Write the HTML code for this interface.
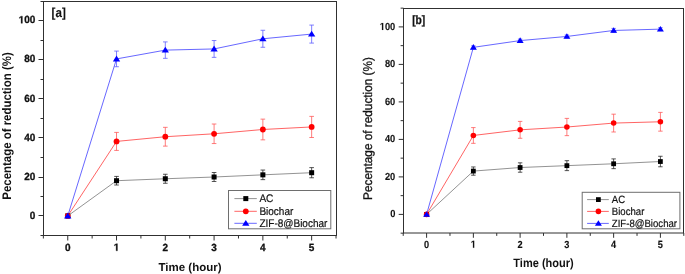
<!DOCTYPE html>
<html><head><meta charset="utf-8"><style>
html,body{margin:0;padding:0;background:#fff;}
body{width:685px;height:274px;overflow:hidden;}
svg{display:block;filter:blur(0.35px);text-rendering:geometricPrecision;font-family:"Liberation Sans",sans-serif;}
.ax{stroke:#303030;stroke-width:1;}
text{fill:#111;}
.b{stroke:#111;stroke-width:0.3px;}
</style></head><body>
<svg width="685" height="274" viewBox="0 0 685 274">
<line x1="40.5" y1="235.5" x2="43.5" y2="235.5" class="ax"/>
<line x1="38.5" y1="215.5" x2="43.5" y2="215.5" class="ax"/>
<line x1="40.5" y1="196.5" x2="43.5" y2="196.5" class="ax"/>
<line x1="38.5" y1="177.5" x2="43.5" y2="177.5" class="ax"/>
<line x1="40.5" y1="157.5" x2="43.5" y2="157.5" class="ax"/>
<line x1="38.5" y1="137.5" x2="43.5" y2="137.5" class="ax"/>
<line x1="40.5" y1="118.5" x2="43.5" y2="118.5" class="ax"/>
<line x1="38.5" y1="98.5" x2="43.5" y2="98.5" class="ax"/>
<line x1="40.5" y1="79.5" x2="43.5" y2="79.5" class="ax"/>
<line x1="38.5" y1="59.5" x2="43.5" y2="59.5" class="ax"/>
<line x1="40.5" y1="40.5" x2="43.5" y2="40.5" class="ax"/>
<line x1="38.5" y1="20.5" x2="43.5" y2="20.5" class="ax"/>
<line x1="40.5" y1="1.5" x2="43.5" y2="1.5" class="ax"/>
<line x1="43.36" y1="235.5" x2="43.36" y2="238.5" class="ax"/>
<line x1="67.75" y1="235.5" x2="67.75" y2="240.5" class="ax"/>
<line x1="92.14" y1="235.5" x2="92.14" y2="238.5" class="ax"/>
<line x1="116.53" y1="235.5" x2="116.53" y2="240.5" class="ax"/>
<line x1="140.92" y1="235.5" x2="140.92" y2="238.5" class="ax"/>
<line x1="165.31" y1="235.5" x2="165.31" y2="240.5" class="ax"/>
<line x1="189.7" y1="235.5" x2="189.7" y2="238.5" class="ax"/>
<line x1="214.09" y1="235.5" x2="214.09" y2="240.5" class="ax"/>
<line x1="238.48" y1="235.5" x2="238.48" y2="238.5" class="ax"/>
<line x1="262.87" y1="235.5" x2="262.87" y2="240.5" class="ax"/>
<line x1="287.26" y1="235.5" x2="287.26" y2="238.5" class="ax"/>
<line x1="311.65" y1="235.5" x2="311.65" y2="240.5" class="ax"/>
<line x1="336.04" y1="235.5" x2="336.04" y2="238.5" class="ax"/>
<rect x="43.5" y="1.5" width="293" height="234" class="ax" fill="none"/>
<text transform="translate(29.84,218.8) scale(0.962,1)" stroke="#111" stroke-width="0.3" font-size="10.4" font-weight="bold">0</text>
<text transform="translate(24.27,179.7) scale(0.962,1)" stroke="#111" stroke-width="0.3" font-size="10.4" font-weight="bold">20</text>
<text transform="translate(24.27,140.6) scale(0.962,1)" stroke="#111" stroke-width="0.3" font-size="10.4" font-weight="bold">40</text>
<text transform="translate(24.27,101.5) scale(0.962,1)" stroke="#111" stroke-width="0.3" font-size="10.4" font-weight="bold">60</text>
<text transform="translate(24.27,62.4) scale(0.962,1)" stroke="#111" stroke-width="0.3" font-size="10.4" font-weight="bold">80</text>
<path transform="translate(18.71,23.3) scale(0.004885,-0.005078)" d="M478 0H759V1409H493L140 1180V959L478 1170Z" fill="#111" stroke="#111" stroke-width="59.1"/><text transform="translate(24.27,23.3) scale(0.962,1)" stroke="#111" stroke-width="0.3" font-size="10.4" font-weight="bold">00</text>
<text transform="translate(64.97,250.8) scale(0.962,1)" stroke="#111" stroke-width="0.3" font-size="10.4" font-weight="bold">0</text>
<path transform="translate(113.75,250.8) scale(0.004885,-0.005078)" d="M478 0H759V1409H493L140 1180V959L478 1170Z" fill="#111" stroke="#111" stroke-width="59.1"/>
<text transform="translate(162.53,250.8) scale(0.962,1)" stroke="#111" stroke-width="0.3" font-size="10.4" font-weight="bold">2</text>
<text transform="translate(211.31,250.8) scale(0.962,1)" stroke="#111" stroke-width="0.3" font-size="10.4" font-weight="bold">3</text>
<text transform="translate(260.09,250.8) scale(0.962,1)" stroke="#111" stroke-width="0.3" font-size="10.4" font-weight="bold">4</text>
<text transform="translate(308.87,250.8) scale(0.962,1)" stroke="#111" stroke-width="0.3" font-size="10.4" font-weight="bold">5</text>
<text transform="translate(10.5,126) rotate(-90) scale(0.923,1)" font-size="12.4" font-weight="bold" stroke="#111" stroke-width="0" text-anchor="middle">Pecentage of reduction (%)</text>
<text transform="translate(190,271.1) scale(1.0,1)" font-size="11.5" font-weight="bold" text-anchor="middle">Time (hour)</text>
<text transform="translate(51.6,16.9) scale(0.885,1)" stroke="#111" stroke-width="0.15" font-size="13.1" font-weight="bold">[a]</text>
<polyline points="67.75,215.9 116.53,180.71 165.31,178.75 214.09,177 262.87,174.84 311.65,172.69" fill="none" stroke="#808080" stroke-width="0.85"/>
<polyline points="67.75,215.9 116.53,141.41 165.31,136.72 214.09,133.79 262.87,129.49 311.65,126.95" fill="none" stroke="#ff4848" stroke-width="0.85"/>
<polyline points="67.75,215.9 116.53,58.91 165.31,50.12 214.09,48.94 262.87,38.78 311.65,34.09" fill="none" stroke="#4c4cff" stroke-width="0.85"/>
<path d="M116.53 176.41V185.01M114.23 176.41H118.83M114.23 185.01H118.83" stroke="#2a2a2a" stroke-width="0.8" fill="none"/>
<path d="M165.31 174.26V183.25M163.01 174.26H167.61M163.01 183.25H167.61" stroke="#2a2a2a" stroke-width="0.8" fill="none"/>
<path d="M214.09 172.5V181.49M211.79 172.5H216.39M211.79 181.49H216.39" stroke="#2a2a2a" stroke-width="0.8" fill="none"/>
<path d="M262.87 170.06V179.63M260.57 170.06H265.17M260.57 179.63H265.17" stroke="#2a2a2a" stroke-width="0.8" fill="none"/>
<path d="M311.65 167.61V177.78M309.35 167.61H313.95M309.35 177.78H313.95" stroke="#2a2a2a" stroke-width="0.8" fill="none"/>
<rect x="65.25" y="213.4" width="5" height="5" fill="#000"/>
<rect x="114.03" y="178.21" width="5" height="5" fill="#000"/>
<rect x="162.81" y="176.25" width="5" height="5" fill="#000"/>
<rect x="211.59" y="174.5" width="5" height="5" fill="#000"/>
<rect x="260.37" y="172.34" width="5" height="5" fill="#000"/>
<rect x="309.15" y="170.19" width="5" height="5" fill="#000"/>
<path d="M116.53 132.42V150.41M114.23 132.42H118.83M114.23 150.41H118.83" stroke="#ff5a5a" stroke-width="0.8" fill="none"/>
<path d="M165.31 127.34V146.11M163.01 127.34H167.61M163.01 146.11H167.61" stroke="#ff5a5a" stroke-width="0.8" fill="none"/>
<path d="M214.09 124.02V143.56M211.79 124.02H216.39M211.79 143.56H216.39" stroke="#ff5a5a" stroke-width="0.8" fill="none"/>
<path d="M262.87 119.13V139.85M260.57 119.13H265.17M260.57 139.85H265.17" stroke="#ff5a5a" stroke-width="0.8" fill="none"/>
<path d="M311.65 116.39V137.5M309.35 116.39H313.95M309.35 137.5H313.95" stroke="#ff5a5a" stroke-width="0.8" fill="none"/>
<circle cx="67.75" cy="215.9" r="2.9" fill="#ff0000"/>
<circle cx="116.53" cy="141.41" r="2.9" fill="#ff0000"/>
<circle cx="165.31" cy="136.72" r="2.9" fill="#ff0000"/>
<circle cx="214.09" cy="133.79" r="2.9" fill="#ff0000"/>
<circle cx="262.87" cy="129.49" r="2.9" fill="#ff0000"/>
<circle cx="311.65" cy="126.95" r="2.9" fill="#ff0000"/>
<path d="M116.53 51.09V66.73M114.23 51.09H118.83M114.23 66.73H118.83" stroke="#6060ff" stroke-width="0.8" fill="none"/>
<path d="M165.31 41.91V58.33M163.01 41.91H167.61M163.01 58.33H167.61" stroke="#6060ff" stroke-width="0.8" fill="none"/>
<path d="M214.09 40.54V57.35M211.79 40.54H216.39M211.79 57.35H216.39" stroke="#6060ff" stroke-width="0.8" fill="none"/>
<path d="M262.87 30.27V47.28M260.57 30.27H265.17M260.57 47.28H265.17" stroke="#6060ff" stroke-width="0.8" fill="none"/>
<path d="M311.65 25.09V43.08M309.35 25.09H313.95M309.35 43.08H313.95" stroke="#6060ff" stroke-width="0.8" fill="none"/>
<path d="M67.75 212.5L71.4 218.4L64.1 218.4Z" fill="#0000ff"/>
<path d="M116.53 55.51L120.18 61.41L112.88 61.41Z" fill="#0000ff"/>
<path d="M165.31 46.72L168.96 52.62L161.66 52.62Z" fill="#0000ff"/>
<path d="M214.09 45.54L217.74 51.44L210.44 51.44Z" fill="#0000ff"/>
<path d="M262.87 35.38L266.52 41.28L259.22 41.28Z" fill="#0000ff"/>
<path d="M311.65 30.69L315.3 36.59L308 36.59Z" fill="#0000ff"/>
<rect x="228.5" y="190.5" width="102.3" height="38.3" fill="#fff" stroke="#6e6e6e" stroke-width="1"/>
<line x1="234.4" y1="198.6" x2="256.8" y2="198.6" stroke="#808080" stroke-width="0.85"/>
<rect x="243.3" y="196.1" width="5" height="5" fill="#000"/>
<text transform="translate(259.4,202.2) scale(0.91,1)" font-size="11" fill="#111" stroke="#111" stroke-width="0.2">AC</text>
<line x1="234.4" y1="211.3" x2="256.8" y2="211.3" stroke="#ff4848" stroke-width="0.85"/>
<circle cx="245.8" cy="211.3" r="2.9" fill="#ff0000"/>
<text transform="translate(259.4,214.9) scale(0.91,1)" font-size="11" fill="#111" stroke="#111" stroke-width="0.2">Biochar</text>
<line x1="234.4" y1="223.3" x2="256.8" y2="223.3" stroke="#4c4cff" stroke-width="0.85"/>
<path d="M245.8 219.9L249.45 225.8L242.15 225.8Z" fill="#0000ff"/>
<text transform="translate(259.4,226.9) scale(0.91,1)" font-size="11" fill="#111" stroke="#111" stroke-width="0.2">ZIF-8@Biochar</text>
<line x1="400.62" y1="233.15" x2="403.5" y2="233.15" class="ax"/>
<line x1="398.7" y1="214.4" x2="403.5" y2="214.4" class="ax"/>
<line x1="400.62" y1="195.65" x2="403.5" y2="195.65" class="ax"/>
<line x1="398.7" y1="176.9" x2="403.5" y2="176.9" class="ax"/>
<line x1="400.62" y1="158.15" x2="403.5" y2="158.15" class="ax"/>
<line x1="398.7" y1="139.4" x2="403.5" y2="139.4" class="ax"/>
<line x1="400.62" y1="120.65" x2="403.5" y2="120.65" class="ax"/>
<line x1="398.7" y1="101.9" x2="403.5" y2="101.9" class="ax"/>
<line x1="400.62" y1="83.15" x2="403.5" y2="83.15" class="ax"/>
<line x1="398.7" y1="64.4" x2="403.5" y2="64.4" class="ax"/>
<line x1="400.62" y1="45.65" x2="403.5" y2="45.65" class="ax"/>
<line x1="398.7" y1="26.9" x2="403.5" y2="26.9" class="ax"/>
<line x1="400.62" y1="8.15" x2="403.5" y2="8.15" class="ax"/>
<line x1="403.22" y1="233" x2="403.22" y2="235.88" class="ax"/>
<line x1="426.6" y1="233" x2="426.6" y2="237.79" class="ax"/>
<line x1="449.98" y1="233" x2="449.98" y2="235.88" class="ax"/>
<line x1="473.36" y1="233" x2="473.36" y2="237.79" class="ax"/>
<line x1="496.74" y1="233" x2="496.74" y2="235.88" class="ax"/>
<line x1="520.12" y1="233" x2="520.12" y2="237.79" class="ax"/>
<line x1="543.5" y1="233" x2="543.5" y2="235.88" class="ax"/>
<line x1="566.88" y1="233" x2="566.88" y2="237.79" class="ax"/>
<line x1="590.26" y1="233" x2="590.26" y2="235.88" class="ax"/>
<line x1="613.64" y1="233" x2="613.64" y2="237.79" class="ax"/>
<line x1="637.02" y1="233" x2="637.02" y2="235.88" class="ax"/>
<line x1="660.4" y1="233" x2="660.4" y2="237.79" class="ax"/>
<line x1="683.78" y1="233" x2="683.78" y2="235.88" class="ax"/>
<rect x="403.5" y="8.5" width="280" height="224.5" class="ax" fill="none"/>
<text transform="translate(390.13,217.4) scale(0.912,1)" stroke="#111" stroke-width="0.12" font-size="10.2" font-weight="bold">0</text>
<text transform="translate(384.95,179.9) scale(0.912,1)" stroke="#111" stroke-width="0.12" font-size="10.2" font-weight="bold">20</text>
<text transform="translate(384.95,142.4) scale(0.912,1)" stroke="#111" stroke-width="0.12" font-size="10.2" font-weight="bold">40</text>
<text transform="translate(384.95,104.9) scale(0.912,1)" stroke="#111" stroke-width="0.12" font-size="10.2" font-weight="bold">60</text>
<text transform="translate(384.95,67.4) scale(0.912,1)" stroke="#111" stroke-width="0.12" font-size="10.2" font-weight="bold">80</text>
<path transform="translate(379.78,29.9) scale(0.004542,-0.004980)" d="M478 0H759V1409H493L140 1180V959L478 1170Z" fill="#111" stroke="#111" stroke-width="24.1"/><text transform="translate(384.95,29.9) scale(0.912,1)" stroke="#111" stroke-width="0.12" font-size="10.2" font-weight="bold">00</text>
<text transform="translate(424.04,247.8) scale(0.885,1)" stroke="#111" stroke-width="0.12" font-size="10.4" font-weight="bold">0</text>
<path transform="translate(470.8,247.8) scale(0.004494,-0.005078)" d="M478 0H759V1409H493L140 1180V959L478 1170Z" fill="#111" stroke="#111" stroke-width="23.6"/>
<text transform="translate(517.56,247.8) scale(0.885,1)" stroke="#111" stroke-width="0.12" font-size="10.4" font-weight="bold">2</text>
<text transform="translate(564.32,247.8) scale(0.885,1)" stroke="#111" stroke-width="0.12" font-size="10.4" font-weight="bold">3</text>
<text transform="translate(611.08,247.8) scale(0.885,1)" stroke="#111" stroke-width="0.12" font-size="10.4" font-weight="bold">4</text>
<text transform="translate(657.84,247.8) scale(0.885,1)" stroke="#111" stroke-width="0.12" font-size="10.4" font-weight="bold">5</text>
<text transform="translate(371.6,128.5) rotate(-90) scale(0.936,1)" font-size="12.6" font-weight="normal" stroke="#111" stroke-width="0.3" text-anchor="middle">Pecentage of reduction (%)</text>
<text transform="translate(543.5,266.8) scale(0.91,1)" font-size="12.1" font-weight="bold" text-anchor="middle">Time (hour)</text>
<text transform="translate(412.2,24.1) scale(0.84,1)" stroke="#111" stroke-width="0.3" font-size="12.2" font-weight="bold">[b]</text>
<polyline points="426.6,214.4 473.36,171.09 520.12,167.53 566.88,165.65 613.64,163.78 660.4,161.53" fill="none" stroke="#808080" stroke-width="0.85"/>
<polyline points="426.6,214.4 473.36,135.46 520.12,129.84 566.88,127.03 613.64,123.09 660.4,121.78" fill="none" stroke="#ff4848" stroke-width="0.85"/>
<polyline points="426.6,214.4 473.36,47.34 520.12,40.59 566.88,36.46 613.64,30.46 660.4,29.15" fill="none" stroke="#4c4cff" stroke-width="0.85"/>
<path d="M473.36 166.96V175.21M471.15 166.96H475.57M471.15 175.21H475.57" stroke="#2a2a2a" stroke-width="0.8" fill="none"/>
<path d="M520.12 162.84V172.21M517.91 162.84H522.33M517.91 172.21H522.33" stroke="#2a2a2a" stroke-width="0.8" fill="none"/>
<path d="M566.88 160.68V170.62M564.67 160.68H569.09M564.67 170.62H569.09" stroke="#2a2a2a" stroke-width="0.8" fill="none"/>
<path d="M613.64 158.9V168.65M611.43 158.9H615.85M611.43 168.65H615.85" stroke="#2a2a2a" stroke-width="0.8" fill="none"/>
<path d="M660.4 156.28V166.78M658.19 156.28H662.61M658.19 166.78H662.61" stroke="#2a2a2a" stroke-width="0.8" fill="none"/>
<rect x="424.2" y="212" width="4.79" height="4.79" fill="#000"/>
<rect x="470.96" y="168.69" width="4.79" height="4.79" fill="#000"/>
<rect x="517.72" y="165.13" width="4.79" height="4.79" fill="#000"/>
<rect x="564.48" y="163.25" width="4.79" height="4.79" fill="#000"/>
<rect x="611.24" y="161.38" width="4.79" height="4.79" fill="#000"/>
<rect x="658" y="159.13" width="4.79" height="4.79" fill="#000"/>
<path d="M473.36 127.59V143.34M471.15 127.59H475.57M471.15 143.34H475.57" stroke="#ff5a5a" stroke-width="0.8" fill="none"/>
<path d="M520.12 121.4V138.28M517.91 121.4H522.33M517.91 138.28H522.33" stroke="#ff5a5a" stroke-width="0.8" fill="none"/>
<path d="M566.88 118.4V135.65M564.67 118.4H569.09M564.67 135.65H569.09" stroke="#ff5a5a" stroke-width="0.8" fill="none"/>
<path d="M613.64 114.18V131.99M611.43 114.18H615.85M611.43 131.99H615.85" stroke="#ff5a5a" stroke-width="0.8" fill="none"/>
<path d="M660.4 112.4V131.15M658.19 112.4H662.61M658.19 131.15H662.61" stroke="#ff5a5a" stroke-width="0.8" fill="none"/>
<circle cx="426.6" cy="214.4" r="2.78" fill="#ff0000"/>
<circle cx="473.36" cy="135.46" r="2.78" fill="#ff0000"/>
<circle cx="520.12" cy="129.84" r="2.78" fill="#ff0000"/>
<circle cx="566.88" cy="127.03" r="2.78" fill="#ff0000"/>
<circle cx="613.64" cy="123.09" r="2.78" fill="#ff0000"/>
<circle cx="660.4" cy="121.78" r="2.78" fill="#ff0000"/>
<path d="M473.36 45.84V48.84M471.15 45.84H475.57M471.15 48.84H475.57" stroke="#6060ff" stroke-width="0.8" fill="none"/>
<path d="M520.12 39.09V42.09M517.91 39.09H522.33M517.91 42.09H522.33" stroke="#6060ff" stroke-width="0.8" fill="none"/>
<path d="M566.88 34.96V37.96M564.67 34.96H569.09M564.67 37.96H569.09" stroke="#6060ff" stroke-width="0.8" fill="none"/>
<path d="M613.64 28.4V32.53M611.43 28.4H615.85M611.43 32.53H615.85" stroke="#6060ff" stroke-width="0.8" fill="none"/>
<path d="M660.4 27.65V30.65M658.19 27.65H662.61M658.19 30.65H662.61" stroke="#6060ff" stroke-width="0.8" fill="none"/>
<path d="M426.6 211.14L430.1 216.8L423.1 216.8Z" fill="#0000ff"/>
<path d="M473.36 44.08L476.86 49.74L469.86 49.74Z" fill="#0000ff"/>
<path d="M520.12 37.33L523.62 42.99L516.62 42.99Z" fill="#0000ff"/>
<path d="M566.88 33.2L570.38 38.86L563.38 38.86Z" fill="#0000ff"/>
<path d="M613.64 27.2L617.14 32.86L610.14 32.86Z" fill="#0000ff"/>
<path d="M660.4 25.89L663.9 31.55L656.9 31.55Z" fill="#0000ff"/>
<rect x="582.2" y="192.3" width="97.7" height="36.5" fill="#fff" stroke="#6e6e6e" stroke-width="1"/>
<line x1="587.1" y1="199.6" x2="608.8" y2="199.6" stroke="#808080" stroke-width="0.85"/>
<rect x="596" y="197.2" width="4.79" height="4.79" fill="#000"/>
<text transform="translate(611.8,203.2) scale(0.91,1)" font-size="10.55" fill="#111" stroke="#111" stroke-width="0.2">AC</text>
<line x1="587.1" y1="211.4" x2="608.8" y2="211.4" stroke="#ff4848" stroke-width="0.85"/>
<circle cx="598.4" cy="211.4" r="2.78" fill="#ff0000"/>
<text transform="translate(611.8,215) scale(0.91,1)" font-size="10.55" fill="#111" stroke="#111" stroke-width="0.2">Biochar</text>
<line x1="587.1" y1="223.4" x2="608.8" y2="223.4" stroke="#4c4cff" stroke-width="0.85"/>
<path d="M598.4 220.14L601.9 225.8L594.9 225.8Z" fill="#0000ff"/>
<text transform="translate(611.8,227) scale(0.91,1)" font-size="10.55" fill="#111" stroke="#111" stroke-width="0.2">ZIF-8@Biochar</text>
</svg>
</body></html>
